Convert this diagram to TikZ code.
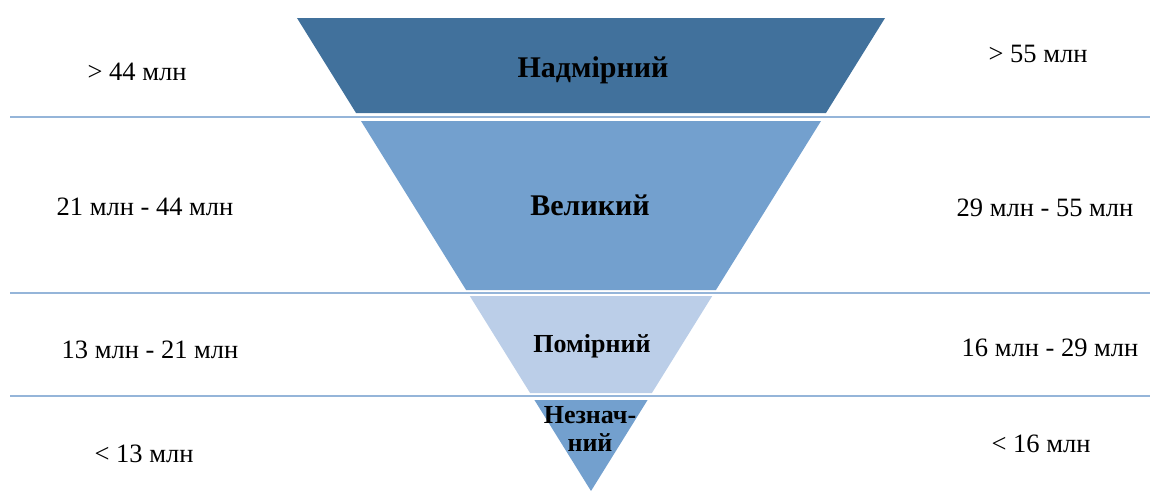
\documentclass[tikz,border=0pt]{standalone}
\usepackage{fontspec}
\setmainfont{Liberation Serif}
\definecolor{bandone}{RGB}{65,113,156}
\definecolor{bandtwo}{RGB}{115,160,206}
\definecolor{bandthree}{RGB}{187,206,232}
\definecolor{lineblue}{RGB}{149,181,217}
\tikzstyle{amount}=[font=\fontsize{26.5}{30}\selectfont]
\tikzstyle{tier}=[font=\bfseries\fontsize{26}{28}\selectfont,align=center]
\tikzstyle{bigtier}=[tier,font=\bfseries\fontsize{30}{32}\selectfont]
\tikzstyle{sepline}=[draw=lineblue,line width=2pt]

\begin{document}
\begin{tikzpicture}[x=1pt,y=-1pt]
  \useasboundingbox (0,0) rectangle (1150,491);
  % separating lines
  \foreach \y in {116.5,292.5,395.5}
    \draw[sepline] (10,\y) -- (1150,\y);
  % funnel bands, apex at (591,491)
  \foreach \top/\bot/\col in {18/113/bandone,121/290/bandtwo,296/393/bandthree,400/491/bandtwo}{
    \pgfmathsetmacro\wtop{0.6216*(491-\top)}
    \pgfmathsetmacro\wbot{0.6216*(491-\bot)}
    \fill[\col] (591-\wtop,\top) -- (591+\wtop,\top) -- (591+\wbot,\bot) -- (591-\wbot,\bot) -- cycle;
  }
  \foreach \place/\name/\txt in {{(593,70)/huge/Надмірний},
                                 {(590,205)/large/Великий}}
    \node[bigtier] (\name) at \place {\txt};
  \foreach \place/\name/\txt in {{(592,346)/moderate/Помірний},
                                 {(590,429)/minor/Незнач-\\ний}}
    \node[tier] (\name) at \place {\txt};
  \foreach \place/\name/\txt in {{(137,72)/lone/> 44 млн},
                                 {(145,207)/ltwo/21 млн - 44 млн},
                                 {(150,350)/lthree/13 млн - 21 млн},
                                 {(144,454)/lfour/< 13 млн}}
    \node[amount] (\name) at \place {\txt};
  \foreach \place/\name/\txt in {{(1038,54)/rone/> 55 млн},
                                 {(1045,208)/rtwo/29 млн - 55 млн},
                                 {(1050,348)/rthree/16 млн - 29 млн},
                                 {(1041,444)/rfour/< 16 млн}}
    \node[amount] (\name) at \place {\txt};
\end{tikzpicture}
\end{document}
